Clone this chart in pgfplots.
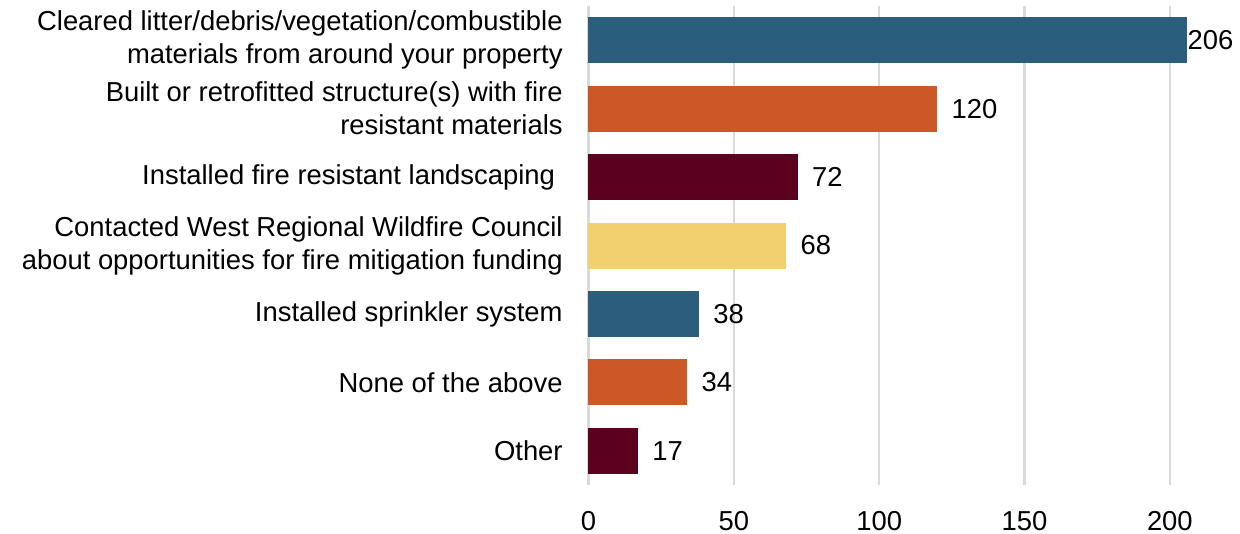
\documentclass[border=0pt]{standalone}
\usepackage{pgfplots}
\pgfplotsset{compat=1.18}
\usepackage{fontspec}
\setmainfont{Liberation Sans}
\definecolor{cblue}{RGB}{43,93,124}
\definecolor{corange}{RGB}{204,88,40}
\definecolor{cmaroon}{RGB}{92,0,32}
\definecolor{cyellow}{RGB}{243,208,111}
\begin{document}
\begin{tikzpicture}
\begin{axis}[
  at={(0,0)}, anchor=south west,
  scale only axis, width=319.75pt, height=239.5pt,
  xbar, bar width=23pt,
  xmin=0, xmax=220, ymin=-0.5, ymax=6.5,
  xtick={0,50,100,150,200},
  ytick={0,1,2,3,4,5,6},
  yticklabels={{Other},{None of the above},{Installed sprinkler system},{Contacted West Regional Wildfire Council~\\about opportunities for fire mitigation funding},{Installed fire resistant landscaping~},{Built or retrofitted structure(s) with fire\\resistant materials},{Cleared litter/debris/vegetation/combustible\\materials from around your property}},
  axis line style={draw=none},
  major tick length=0pt,
  xmajorgrids, grid style={draw=black!15, line width=1.2pt},
  tick label style={font=\fontsize{13.7}{16.5}\selectfont},
  /pgf/number format/assume math mode=true,
  yticklabel style={align=right, inner sep=0pt, xshift=-12.75pt},
  xticklabel style={inner sep=0pt, yshift=-13pt},
  clip=false,
  nodes near coords,
  nodes near coords style={anchor=west, inner sep=0pt, xshift=7pt, font=\fontsize{13.7}{16.5}\selectfont, text=black},
]
\addplot[fill=cmaroon, draw=none, bar shift=0pt] coordinates {(17,0)};
\addplot[fill=corange, draw=none, bar shift=0pt] coordinates {(34,1)};
\addplot[fill=cblue, draw=none, bar shift=0pt] coordinates {(38,2)};
\addplot[fill=cyellow, draw=none, bar shift=0pt] coordinates {(68,3)};
\addplot[fill=cmaroon, draw=none, bar shift=0pt] coordinates {(72,4)};
\addplot[fill=corange, draw=none, bar shift=0pt] coordinates {(120,5)};
\addplot[fill=cblue, draw=none, bar shift=0pt, nodes near coords style={xshift=-7pt}] coordinates {(206,6)};
\end{axis}
\path (-294.25pt,-24.5pt) rectangle (325.75pt,242.5pt);
\end{tikzpicture}
\end{document}
